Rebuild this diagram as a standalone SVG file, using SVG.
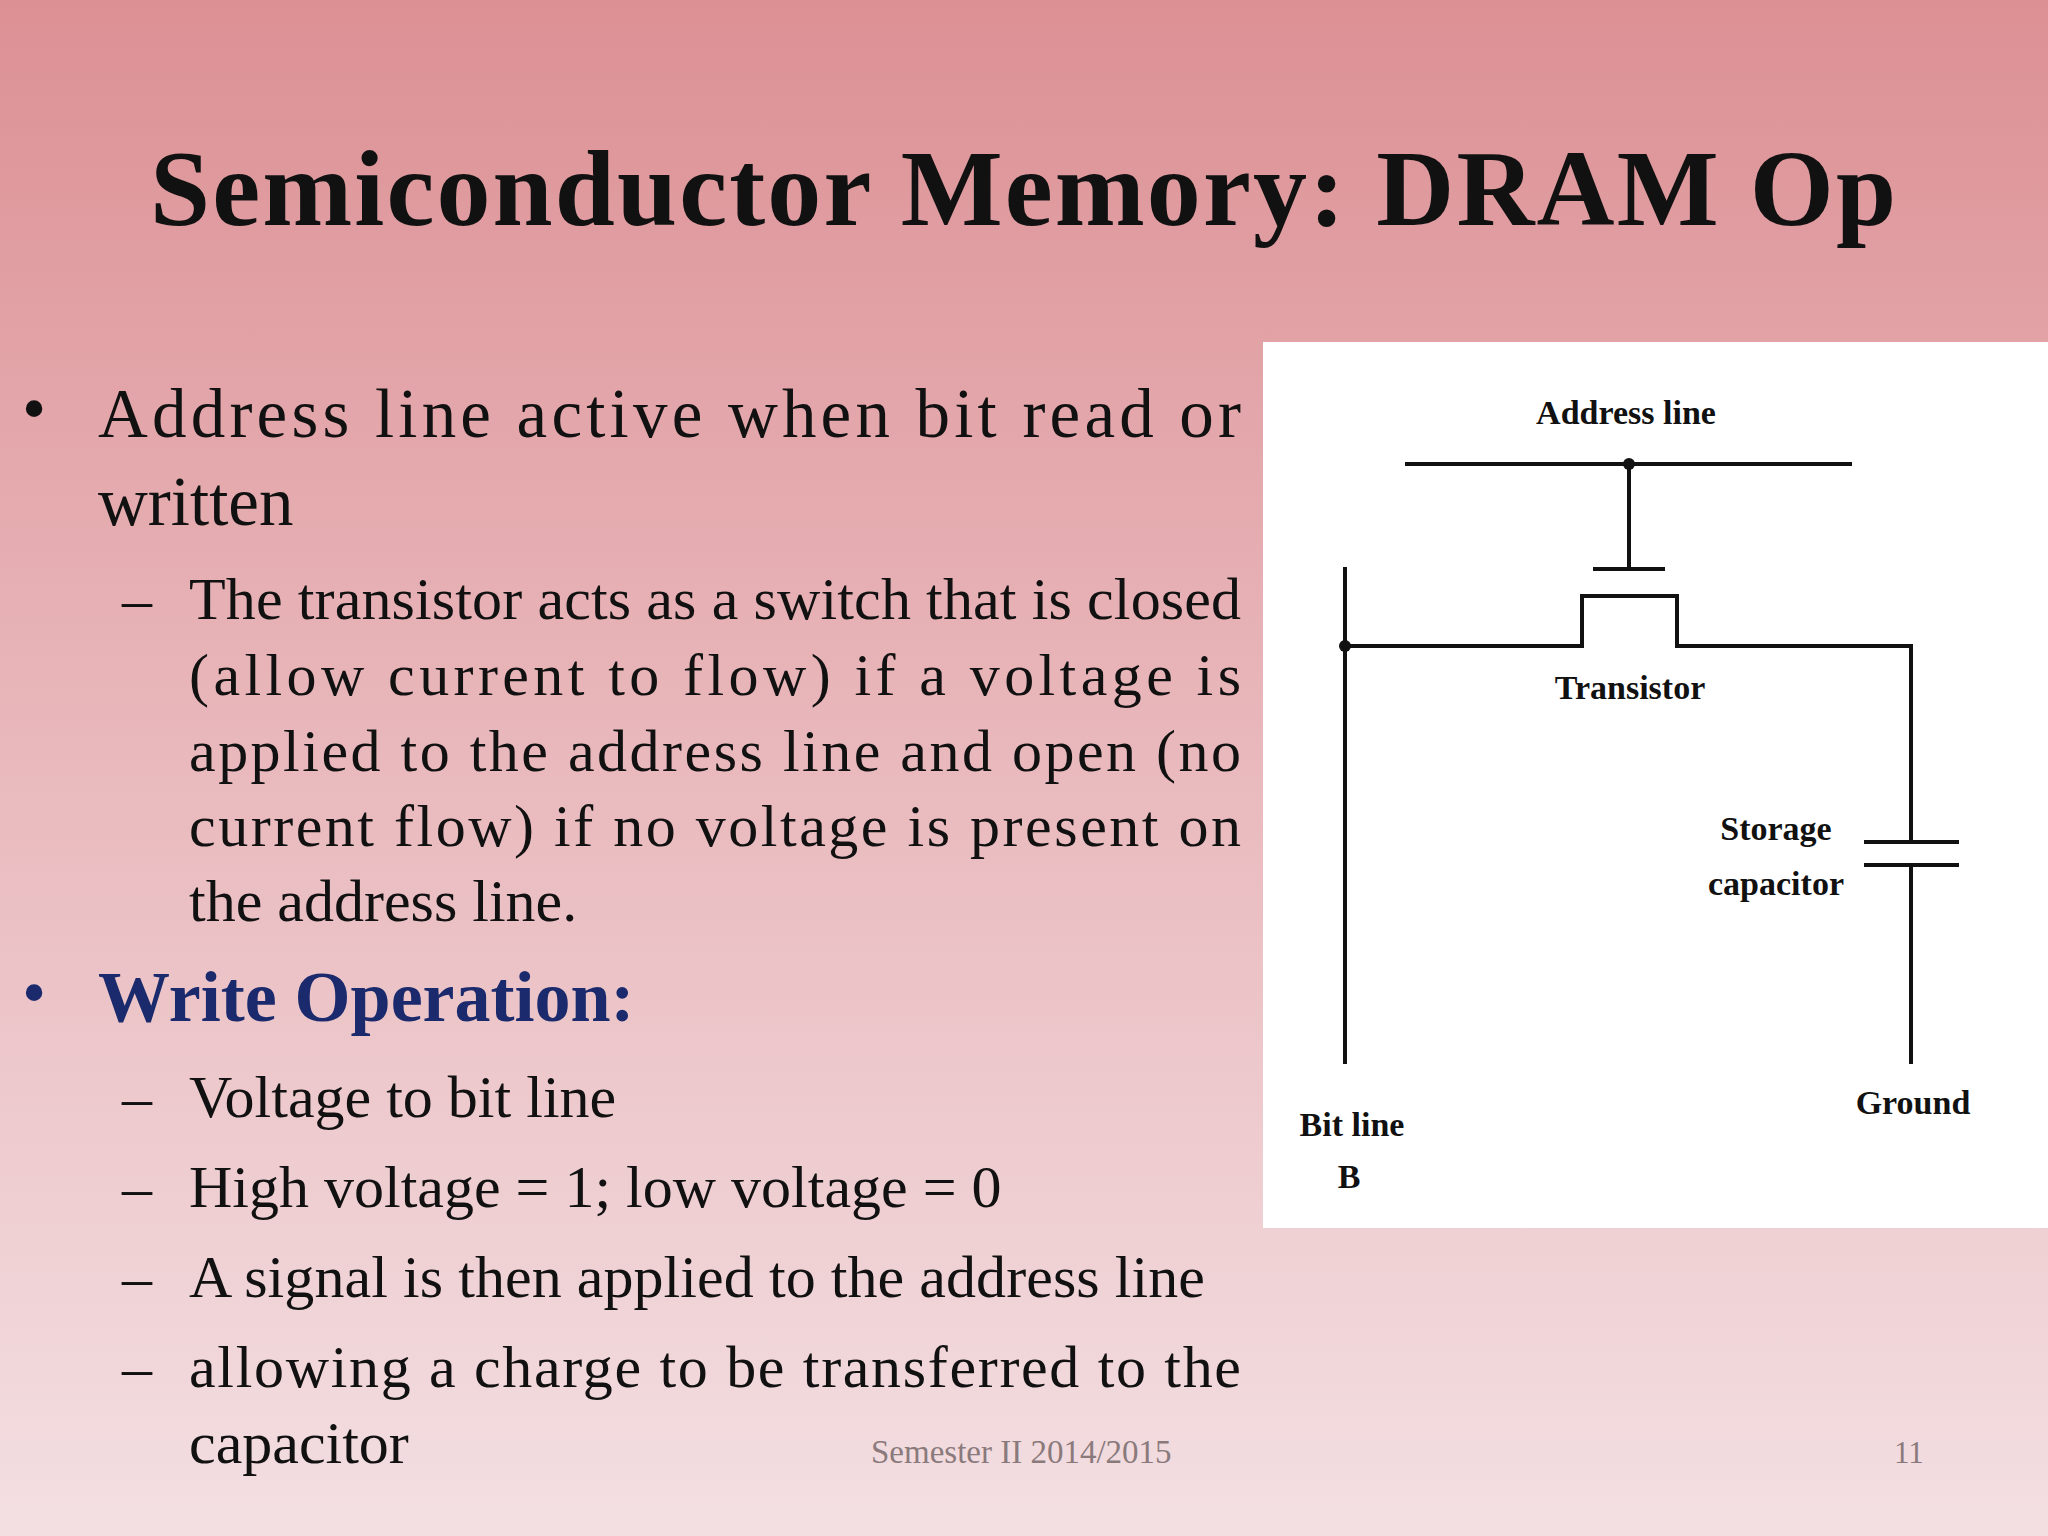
<svg xmlns="http://www.w3.org/2000/svg" width="2048" height="1536" viewBox="0 0 2048 1536">
<defs>
<linearGradient id="bg" x1="0" y1="0" x2="0" y2="1">
<stop offset="0" stop-color="#dc9094"/>
<stop offset="0.5" stop-color="#e9b9bd"/>
<stop offset="1" stop-color="#f3dfe2"/>
</linearGradient>
<style>
.t{font-family:"Liberation Serif",serif;fill:#111}
.b{font-size:69px}
.s{font-size:60px}
.c{font-family:"Liberation Serif",serif;font-weight:bold;font-size:34px;fill:#111;text-anchor:middle}
.w{stroke:#111;stroke-width:4;fill:none}
</style>
</defs>
<rect width="2048" height="1536" fill="url(#bg)"/>
<text class="t" x="150" y="225" font-size="108" font-weight="bold" textLength="1746">Semiconductor Memory: DRAM Op</text>
<g id="text">
<text class="t b" x="22" y="432">•</text>
<text class="t b" x="98" y="437" textLength="1143">Address line active when bit read or</text>
<text class="t b" x="98" y="525">written</text>
<text class="t s" x="122" y="619">–</text>
<text class="t s" x="189" y="619" textLength="1052">The transistor acts as a switch that is closed</text>
<text class="t s" x="189" y="695" textLength="1052">(allow current to flow) if a voltage is</text>
<text class="t s" x="189" y="771" textLength="1052">applied to the address line and open (no</text>
<text class="t s" x="189" y="846" textLength="1052">current flow) if no voltage is present on</text>
<text class="t s" x="189" y="921">the address line.</text>
<text class="t b" x="22" y="1016" style="fill:#1a2a6c">•</text>
<text class="t" x="98" y="1021" font-size="72" font-weight="bold" style="fill:#1a2a6c">Write Operation:</text>
<text class="t s" x="122" y="1117">–</text>
<text class="t s" x="189" y="1117">Voltage to bit line</text>
<text class="t s" x="122" y="1207">–</text>
<text class="t s" x="189" y="1207">High voltage = 1; low voltage = 0</text>
<text class="t s" x="122" y="1297">–</text>
<text class="t s" x="189" y="1297" textLength="1016">A signal is then applied to the address line</text>
<text class="t s" x="122" y="1387">–</text>
<text class="t s" x="189" y="1387" textLength="1052">allowing a charge to be transferred to the</text>
<text class="t s" x="189" y="1463">capacitor</text>
<text x="871" y="1463" font-family="Liberation Serif,serif" font-size="33" fill="#8a7a7c">Semester II 2014/2015</text>
<text x="1894" y="1463" font-family="Liberation Serif,serif" font-size="31" fill="#8a7a7c">11</text>
</g>
<rect x="1263" y="342" width="785" height="886" fill="#fff"/>
<g id="circuit">
<path class="w" d="M1405 464H1852M1629 464V569M1593 569H1665"/>
<path class="w" d="M1345 567V1064M1345 646H1582V596H1677V646H1911V842M1864 842H1959M1864 865H1959M1911 865V1064"/>
<circle cx="1629" cy="464" r="6" fill="#111"/>
<circle cx="1345" cy="646" r="6" fill="#111"/>
</g>
<g id="labels">
<text class="c" x="1626" y="424">Address line</text>
<text class="c" x="1630" y="699">Transistor</text>
<text class="c" x="1776" y="840">Storage</text>
<text class="c" x="1776" y="895">capacitor</text>
<text class="c" x="1913" y="1114">Ground</text>
<text class="c" x="1352" y="1136">Bit line</text>
<text class="c" x="1349" y="1188">B</text>
</g>
</svg>
